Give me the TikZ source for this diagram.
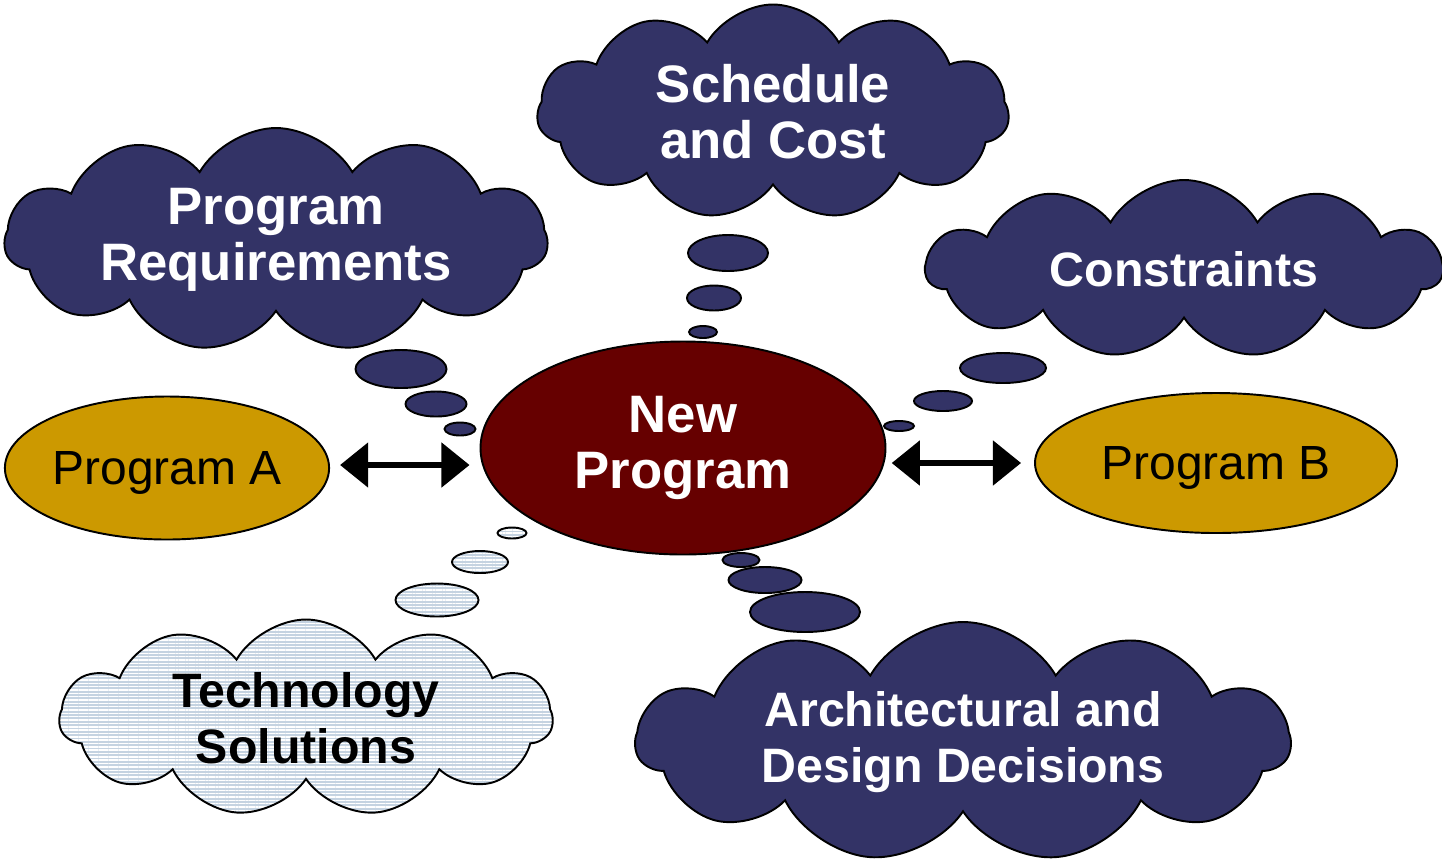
\documentclass[tikz,border=0pt]{standalone}
\usepackage{fontspec}
\setmainfont{Liberation Sans}
\usetikzlibrary{shapes.geometric,shapes.symbols,arrows.meta,patterns.meta}

\definecolor{navy}{HTML}{333366}
\definecolor{maroon}{HTML}{660000}
\definecolor{gold}{HTML}{CC9900}
\definecolor{paleblue}{HTML}{C5D3E1}

\newcommand{\pxl}{0.02cm}

\tikzset{
  cloudy/.style={cloud, cloud puffs=11, cloud puff arc=120, cloud ignores aspect,
    draw=black, line width=1.1pt, fill=navy, text=white, align=center, inner sep=0pt,
    font=\fontsize{27.5}{32}\selectfont\bfseries},
  bigtext/.style={font=\fontsize{30}{32}\selectfont\bfseries},
  techcloud/.style={fill=none, text=black, preaction={fill=paleblue},
    pattern={Lines[angle=0,distance=1.9pt,line width=0.8pt]}, pattern color=white},
  bubble/.style={ellipse, draw=black, line width=1.1pt, fill=navy, inner sep=0pt},
  techbubble/.style={bubble, fill=none, preaction={fill=paleblue},
    pattern={Lines[angle=0,distance=1.9pt,line width=0.8pt]}, pattern color=white},
  oval/.style={ellipse, draw=black, line width=1.1pt, inner sep=0pt, align=center},
  progoval/.style={oval, fill=gold, font=\fontsize{27.3}{30}\selectfont, text depth=0pt},
  dblarrow/.style={{Triangle[length=16pt,width=25pt]}-{Triangle[length=16pt,width=25pt]},
    line width=3.2pt}
}

\begin{document}
\begin{tikzpicture}[x=0.02cm, y=-0.02cm]
\useasboundingbox (0,0) rectangle (1442,867);

% clouds
\node[cloudy, bigtext, minimum width=472*\pxl, minimum height=215*\pxl] (sched) at (773,112) {Schedule\\and Cost};
\node[cloudy, bigtext, minimum width=543*\pxl, minimum height=224*\pxl] (reqs) at (276,240) {Program\\Requirements};
\node[cloudy, minimum width=516*\pxl, minimum height=178*\pxl] (constr) at (1184,269) {Constraints};
\node[cloudy, techcloud, minimum width=493*\pxl, minimum height=197*\pxl] (tech) at (306,718) {Technology\\Solutions};
\node[cloudy, minimum width=654*\pxl, minimum height=240*\pxl] (arch) at (963,742) {Architectural and\\Design Decisions};

% thought bubbles
\foreach \nm/\cx/\cy/\w/\h in {r1/401/369/91/38, r2/436/404/61/25, r3/460/429/31/13,
    s1/728/253/80/36, s2/714/298/54/25, s3/703/332/28/12,
    c1/1003/368/86/30, c2/943/401/58/20, c3/899/426/30/10,
    a1/805/612/110/40, a2/765/580/73/26, a3/741/560/37/14}
  \node[bubble, minimum width=\w*\pxl, minimum height=\h*\pxl] (\nm) at (\cx,\cy) {};
\foreach \nm/\cx/\cy/\w/\h in {t1/437/600/83/33, t2/480/562/56/22, t3/512/533/29/11}
  \node[techbubble, minimum width=\w*\pxl, minimum height=\h*\pxl] (\nm) at (\cx,\cy) {};

% programs
\node[oval, bigtext, fill=maroon, text=white,
  minimum width=405*\pxl, minimum height=213*\pxl] (newprog) at (683,448) {New\\Program};
\node[progoval, minimum width=321*\pxl, minimum height=143*\pxl] (progA) at (167,468) {Program A};
\node[progoval, minimum width=362*\pxl, minimum height=140*\pxl] (progB) at (1216,463) {Program B};

\draw[dblarrow, shorten <=5.7pt, shorten >=5.7pt] ([yshift=3*\pxl]progA.east) -- ([yshift=3*\pxl]progA.east -| newprog.west);
\draw[dblarrow, shorten <=3pt, shorten >=7.4pt] (progB.west -| newprog.east) -- (progB.west);

\end{tikzpicture}
\end{document}
